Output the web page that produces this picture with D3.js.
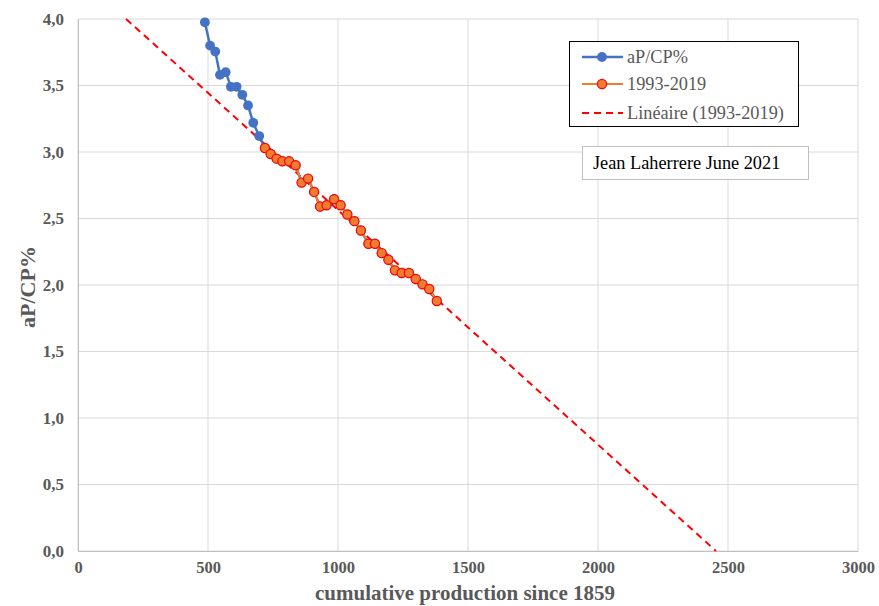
<!DOCTYPE html>
<html><head><meta charset="utf-8">
<script src="https://cdn.jsdelivr.net/npm/d3@7"></script>
<style>
body{margin:0;background:#fff;}
</style></head>
<body><svg id="c" width="879" height="606"></svg>
<script>
// aP/CP% series (cumulative production, ratio %)
const blueX = [488,508,528,546,568,588,610,632,654,674,697];
const blueY = [3.975,3.80,3.755,3.58,3.60,3.49,3.49,3.43,3.35,3.22,3.12];
// 1993-2019 series
const orangeX = [719,741,764,786,812,837,860,885,908,931,956,985,1010,1036,1063,1088,1117,1142,1168,1194,1219,1245,1273,1299,1325,1351,1380];
const orangeY = [3.03,2.985,2.95,2.93,2.93,2.90,2.77,2.80,2.70,2.59,2.60,2.645,2.60,2.53,2.48,2.41,2.31,2.31,2.24,2.19,2.11,2.09,2.09,2.045,2.005,1.97,1.88];
// Linear trend (1993-2019): y = a + b*x
const trendA = 4.326, trendB = -0.001763;
const xTicks = [0,500,1000,1500,2000,2500,3000];
const yTicks = [0,0.5,1,1.5,2,2.5,3,3.5,4];
const legendLabels = ["aP/CP%","1993-2019","Linéaire (1993-2019)"];
const note = "Jean Laherrere June 2021";

const FF = '"Liberation Serif", "Times New Roman", serif';
const svg = d3.select("#c");
const x = d3.scaleLinear().domain([0,3000]).range([78,858]);
const y = d3.scaleLinear().domain([0,4]).range([551,19]);
const grid = "#d9d9d9", txt = "#595959";

// gridlines
svg.append("g").selectAll("line").data(yTicks).join("line")
  .attr("x1",x(0)).attr("x2",x(3000)).attr("y1",d=>y(d)).attr("y2",d=>y(d))
  .attr("stroke",grid).attr("stroke-width",1);
svg.append("g").selectAll("line").data(xTicks).join("line")
  .attr("x1",d=>x(d)).attr("x2",d=>x(d)).attr("y1",y(0)).attr("y2",y(4))
  .attr("stroke",grid).attr("stroke-width",1);

// axes
const fmtY = d => d3.format(".1f")(d).replace(".",",");
const ya = svg.append("g").attr("transform",`translate(${x(0)},0)`)
  .call(d3.axisLeft(y).tickValues(yTicks).tickFormat(fmtY).tickSize(0).tickPadding(14));
ya.attr("font-family",null);
ya.select(".domain").attr("stroke","#bfbfbf");
ya.selectAll("text").attr("fill",txt).attr("font-size",17).attr("font-weight","bold")
  .style("font-family",FF);
const xa = svg.append("g").attr("transform",`translate(0,${y(0)})`)
  .call(d3.axisBottom(x).tickValues(xTicks).tickFormat(d3.format("d")).tickSize(0).tickPadding(10));
xa.attr("font-family",null);
xa.select(".domain").attr("stroke","#bfbfbf");
xa.selectAll("text").attr("fill",txt).attr("font-size",16.5).attr("font-weight","bold")
  .style("font-family",FF);

svg.append("text").attr("x",465).attr("y",600).attr("text-anchor","middle").style("font-family",FF)
  .attr("fill",txt).attr("font-size",21).attr("font-weight","bold").text("cumulative production since 1859");
svg.append("text").attr("transform","translate(35,287) rotate(-90)").attr("text-anchor","middle").style("font-family",FF)
  .attr("fill",txt).attr("font-size",22).attr("font-weight","bold").text("aP/CP%");

// trend line
const tx0 = (4 - trendA)/trendB, tx1 = -trendA/trendB;
svg.append("line").attr("x1",x(tx0)).attr("y1",y(trendA+trendB*tx0))
  .attr("x2",x(tx1)).attr("y2",y(trendA+trendB*tx1))
  .attr("stroke","#ff0000").attr("stroke-width",2).attr("stroke-dasharray","7,5");

// blue series (all points)
const allX = blueX.concat(orangeX), allY = blueY.concat(orangeY);
const bluePts = allX.map((d,i)=>[d,allY[i]]);
const line = d3.line().x(d=>x(d[0])).y(d=>y(d[1]));
svg.append("path").attr("d",line(bluePts)).attr("fill","none").attr("stroke","#4472c4").attr("stroke-width",2.5);
svg.append("g").selectAll("circle").data(bluePts).join("circle")
  .attr("cx",d=>x(d[0])).attr("cy",d=>y(d[1])).attr("r",4.9).attr("fill","#4472c4");

// orange series
const orPts = orangeX.map((d,i)=>[d,orangeY[i]]);
svg.append("path").attr("d",line(orPts)).attr("fill","none").attr("stroke","#ed7d31").attr("stroke-width",2.2);
svg.append("g").selectAll("circle").data(orPts).join("circle")
  .attr("cx",d=>x(d[0])).attr("cy",d=>y(d[1])).attr("r",4.6).attr("fill","#ed7d31")
  .attr("stroke","#ff0000").attr("stroke-width",1.2);

// legend
svg.append("rect").attr("x",569.5).attr("y",41.5).attr("width",229).attr("height",85)
  .attr("fill","#fff").attr("stroke","#000").attr("stroke-width",1);
const ly = [57,84,113];
const lg = svg.append("g");
lg.append("line").attr("x1",582).attr("x2",623).attr("y1",ly[0]).attr("y2",ly[0]).attr("stroke","#4472c4").attr("stroke-width",2.5);
lg.append("circle").attr("cx",602).attr("cy",ly[0]).attr("r",4.9).attr("fill","#4472c4");
lg.append("line").attr("x1",582).attr("x2",623).attr("y1",ly[1]).attr("y2",ly[1]).attr("stroke","#ed7d31").attr("stroke-width",2.2);
lg.append("circle").attr("cx",602).attr("cy",ly[1]).attr("r",4.6).attr("fill","#ed7d31").attr("stroke","#ff0000").attr("stroke-width",1.2);
lg.append("line").attr("x1",582).attr("x2",623).attr("y1",ly[2]).attr("y2",ly[2]).attr("stroke","#ff0000").attr("stroke-width",2).attr("stroke-dasharray","7,5");
lg.selectAll("text").data(legendLabels).join("text").style("font-family",FF)
  .attr("x",627).attr("y",(d,i)=>ly[i]+6).attr("fill",txt).attr("font-size",18.3).text(d=>d);

// note box
svg.append("rect").attr("x",582.5).attr("y",146.5).attr("width",226).attr("height",33)
  .attr("fill","#fff").attr("stroke","#bfbfbf").attr("stroke-width",1);
svg.append("text").attr("x",593).attr("y",169).style("font-family",FF).attr("fill","#000").attr("font-size",18.3).text(note);
</script></body></html>
